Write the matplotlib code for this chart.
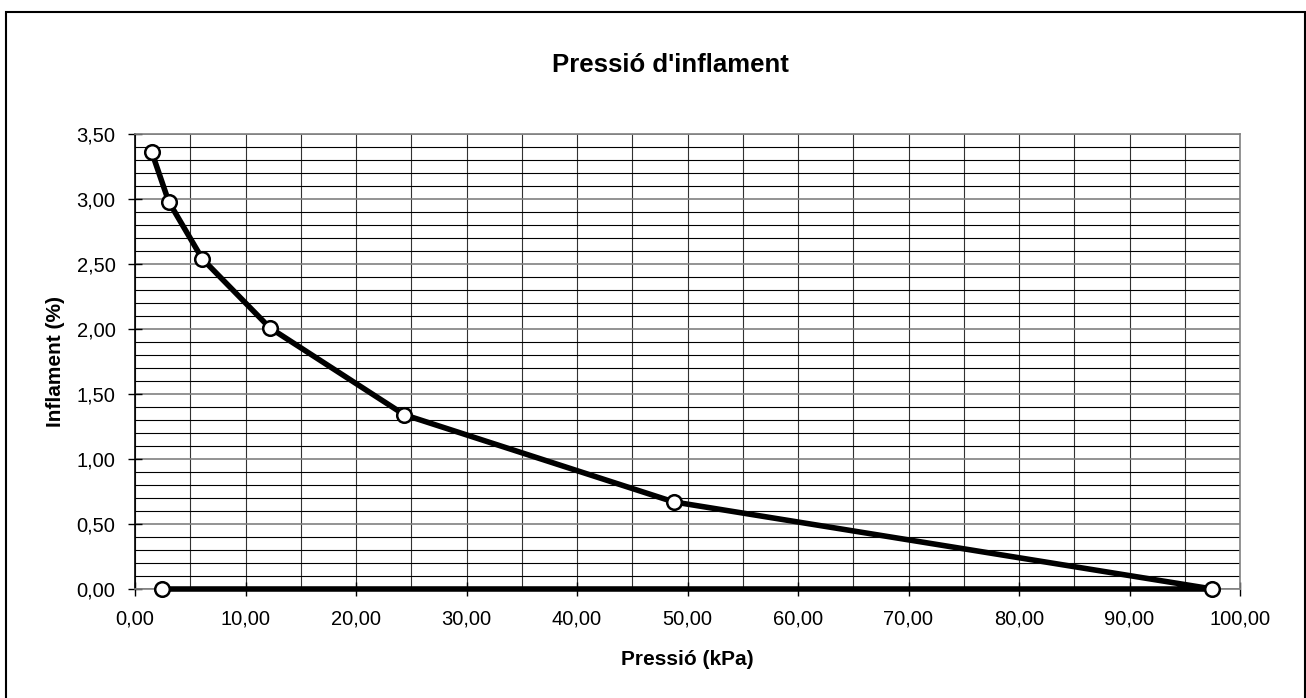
import numpy as np
import matplotlib.pyplot as plt
from matplotlib.ticker import MultipleLocator, FuncFormatter
from matplotlib.patches import Rectangle

plt.rcParams['font.family'] = ['Liberation Sans', 'DejaVu Sans']

# Pressió (kPa) i inflament (%)
pressio = [2.44, 97.5, 48.75, 24.38, 12.19, 6.09, 3.05, 1.52]
inflament = [0.00, 0.00, 0.67, 1.34, 2.01, 2.54, 2.98, 3.36]

fig = plt.figure(figsize=(13.06, 6.98), dpi=100)
ax = fig.add_axes([135 / 1306, 109 / 698, 1105 / 1306, 455 / 698])

# outer chart border (bottom edge lies outside the picture)
fig.patches.append(Rectangle((6 / 1306, -10 / 698), 1299 / 1306, 696 / 698,
                             transform=fig.transFigure, fill=False,
                             edgecolor='black', linewidth=1.5))

ax.set_xlim(0, 100)
ax.set_ylim(0, 3.5)
ax.xaxis.set_major_locator(MultipleLocator(10))
ax.xaxis.set_minor_locator(MultipleLocator(5))
ax.yaxis.set_major_locator(MultipleLocator(0.5))
ax.yaxis.set_minor_locator(MultipleLocator(0.1))

comma = lambda v, p: f'{v:.2f}'.replace('.', ',')
ax.xaxis.set_major_formatter(FuncFormatter(comma))
ax.yaxis.set_major_formatter(FuncFormatter(comma))

ax.grid(which='minor', axis='y', color='black', linewidth=0.8)
ax.grid(which='major', axis='y', color='#808080', linewidth=1.2)
ax.grid(which='both', axis='x', color='#333333', linewidth=0.8)
ax.set_axisbelow(True)

ax.tick_params(which='major', direction='inout', length=10, width=1, labelsize=14.5)
ax.tick_params(axis='x', pad=10)
ax.tick_params(axis='y', pad=9)
ax.tick_params(which='minor', length=0)

for s in ['top', 'right', 'bottom']:
    ax.spines[s].set_color('#808080')
    ax.spines[s].set_linewidth(1.2)
ax.spines['left'].set_color('black')
ax.spines['left'].set_linewidth(1.2)

ax.plot(pressio, inflament, color='black', linewidth=4, marker='o',
        markersize=10.5, markerfacecolor='white', markeredgecolor='black',
        markeredgewidth=1.8, clip_on=False, zorder=5)

ax.set_title("Pressió d'inflament", fontsize=18.5, fontweight='bold', pad=45, x=0.485)
ax.set_xlabel('Pressió (kPa)', fontsize=15, fontweight='bold', labelpad=15)
ax.set_ylabel('Inflament (%)', fontsize=15, fontweight='bold', labelpad=8)

fig.savefig('out.png', dpi=100)
